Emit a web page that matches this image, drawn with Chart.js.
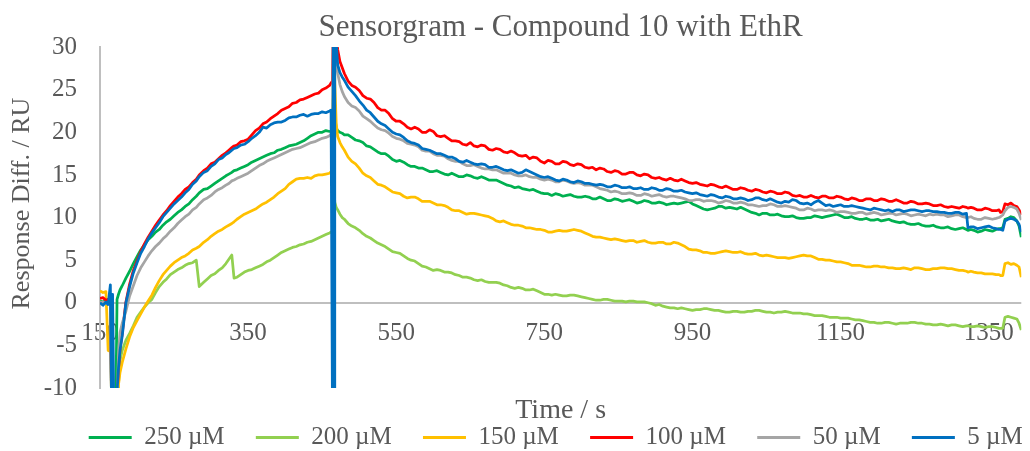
<!DOCTYPE html>
<html lang="en">
<head>
  <meta charset="UTF-8" />
  <title>Sensorgram - Compound 10 with EthR</title>
  <script src="https://cdn.jsdelivr.net/npm/chart.js@4.4.1/dist/chart.umd.min.js"></script>
  <style>
    html, body { margin: 0; padding: 0; background: #fff; }
    #wrap { position: relative; width: 1030px; height: 451px; }
  </style>
</head>
<body>
  <div id="wrap"><canvas id="sensorgram"></canvas></div>
  <script>
    // Time points (s), shared by every run
    const times = [
      150, 154, 158, 161, 164, 166, 167, 169, 171, 173, 175, 177, 180, 185, 190, 195,
      200, 205, 210, 215, 220, 225, 230, 235, 240, 245, 250, 255, 260, 265, 270, 275, 280,
      284, 290, 295, 300, 305, 310, 315, 320, 324, 328, 331, 335,
      340, 345, 350, 355, 360, 365, 370, 375, 380, 385, 390, 395, 400, 405, 410, 415, 420, 425, 430, 435, 440, 445, 450, 455, 460,
      462, 464, 465, 466, 467, 469, 471, 474, 477,
      480, 485, 490, 495, 500, 505, 510, 515, 520, 525,
      530, 535, 540, 545, 550, 555, 560, 565, 570, 575,
      580, 585, 590, 595, 600, 605, 610, 615, 620, 625,
      630, 635, 640, 645, 650, 655, 660, 665, 670, 675,
      680, 685, 690, 695, 700, 705, 710, 715, 720, 725,
      730, 735, 740, 745, 750, 755, 760, 765, 770, 775,
      780, 785, 790, 795, 800, 805, 810, 815, 820, 825,
      830, 835, 840, 845, 850, 855, 860, 865, 870, 875,
      880, 885, 890, 895, 900, 905, 910, 915, 920, 925,
      930, 935, 940, 945, 950, 955, 960, 965, 970, 975,
      980, 985, 990, 995, 1000, 1005, 1010, 1015, 1020, 1025,
      1030, 1035, 1040, 1045, 1050, 1055, 1060, 1065, 1070, 1075,
      1080, 1085, 1090, 1095, 1100, 1105, 1110, 1115, 1120, 1125,
      1130, 1135, 1140, 1145, 1150, 1155, 1160, 1165, 1170, 1175,
      1180, 1185, 1190, 1195, 1200, 1205, 1210, 1215, 1220, 1225,
      1230, 1235, 1240, 1245, 1250, 1255, 1260, 1265, 1270, 1275,
      1280, 1285, 1290, 1295, 1300, 1305, 1310, 1315, 1320,
      1322, 1326, 1330, 1335, 1340, 1345, 1350, 1355, 1360, 1364, 1366, 1369, 1372, 1376, 1380, 1384, 1388, 1391, 1394
    ];

    // Response difference (RU), one array per analyte concentration
    const resp250 = [
      0.2, 0.1, 0.3, 0.2, 0.3, -15, -15, -15, -15, 0.4, 1.0, 1.5, 2.0, 2.9, 3.7, 4.6,
      5.4, 6.2, 6.8, 7.4, 7.8, 8.3, 8.6, 9.1, 9.5, 9.8, 10.2, 10.6, 10.9, 11.3, 11.6, 12.1, 12.5,
      12.9, 13.3, 13.4, 13.7, 14.0, 14.3, 14.6, 14.9, 15.1, 15.3, 15.5, 15.6,
      15.8, 16.0, 16.2, 16.5, 16.7, 16.9, 17.1, 17.3, 17.5, 17.6, 17.9, 18.0, 18.2, 18.4, 18.5, 18.6, 18.8, 19.0, 19.3, 19.6, 19.8, 20.0, 20.0, 20.2, 20.1,
      20.1, 20.1, 24, 23, 22, 20.5, 20.2, 20.0, 19.9,
      19.7, 19.7, 19.4, 19.1, 19.0, 18.8, 18.4, 18.3, 18.0, 17.7,
      17.5, 17.5, 17.2, 16.8, 16.6, 16.7, 16.5, 16.2, 16.0, 16.0,
      15.8, 15.8, 15.6, 15.4, 15.4, 15.5, 15.3, 15.1, 15.0, 15.2,
      15.0, 14.8, 14.8, 15.0, 14.9, 14.7, 14.6, 14.8, 14.6, 14.4,
      14.4, 14.4, 14.2, 14.0, 13.8, 13.7, 13.5, 13.6, 13.4, 13.3,
      13.2, 13.3, 13.1, 12.9, 12.8, 12.8, 12.6, 12.8, 12.7, 12.5,
      12.6, 12.7, 12.5, 12.4, 12.4, 12.5, 12.4, 12.2, 12.2, 12.4,
      12.2, 12.0, 12.0, 12.2, 12.1, 11.9, 12.0, 12.1, 11.9, 11.7,
      11.8, 12.0, 11.9, 11.7, 11.7, 11.8, 11.7, 11.5, 11.6, 11.7,
      11.6, 11.7, 11.8, 11.9, 11.6, 11.4, 11.2, 11.0, 10.9, 11.0,
      11.1, 11.3, 11.3, 11.1, 11.2, 11.1, 11.0, 11.2, 11.0, 10.8,
      10.6, 10.5, 10.3, 10.5, 10.5, 10.3, 10.3, 10.4, 10.2, 10.1,
      10.1, 10.2, 10.0, 9.9, 9.9, 10.0, 10.0, 10.2, 10.1, 10.0,
      10.1, 10.2, 10.3, 10.4, 10.2, 10.0, 10.0, 10.1, 9.9, 9.8,
      9.8, 9.9, 9.7, 9.7, 9.8, 9.6, 9.7, 9.8, 9.6, 9.5,
      9.4, 9.5, 9.3, 9.2, 9.2, 9.3, 9.1, 9.0, 9.0, 9.1,
      8.9, 8.8, 8.8, 8.9, 8.7, 8.6, 8.7, 8.8, 8.6,
      8.5, 8.6, 8.5, 8.3, 8.4, 8.6, 8.5, 8.4, 8.6, 8.7, 8.7, 8.8, 9.8, 9.9, 10.1, 10.0, 9.6, 9.0, 7.7
    ];
    const resp200 = [
      0.1, 0.0, 0.1, 0.0, 0.1, -15, -15, -15, -15, -14, -9.5, -6.8, -5.6, -4.4, -3.6, -2.7,
      -1.7, -1.1, -0.5, 0.0, 0.4, 1.2, 1.9, 2.4, 2.8, 3.3, 3.6, 3.9, 4.1, 4.4, 4.6, 4.7, 5.0,
      1.9, 2.4, 2.8, 3.2, 3.4, 3.8, 4.1, 4.6, 5.1, 5.6, 2.9, 3.0,
      3.3, 3.6, 3.8, 3.9, 4.1, 4.3, 4.5, 4.8, 5.0, 5.3, 5.6, 5.9, 6.1, 6.3, 6.5, 6.6, 6.8, 6.9, 7.1, 7.2, 7.4, 7.6, 7.8, 8.0, 8.2,
      8.3, 8.3, 12.0, 12.0, 11.8, 11.2, 10.9, 10.4, 10.0,
      9.8, 9.3, 9.0, 8.8, 8.5, 8.1, 7.8, 7.6, 7.3, 7.0,
      6.8, 6.6, 6.3, 6.0, 5.9, 5.8, 5.5, 5.2, 5.0, 4.9,
      4.6, 4.3, 4.2, 4.0, 3.8, 3.9, 3.8, 3.6, 3.6, 3.5,
      3.3, 3.2, 3.0, 3.0, 2.9, 2.7, 2.6, 2.7, 2.5, 2.4,
      2.4, 2.4, 2.3, 2.1, 2.0, 1.8, 1.7, 1.8, 1.7, 1.5,
      1.5, 1.6, 1.4, 1.2, 1.0, 1.0, 0.9, 1.0, 0.9, 0.8,
      0.8, 0.9, 0.9, 0.8, 0.7, 0.6, 0.5, 0.4, 0.3, 0.3,
      0.4, 0.4, 0.3, 0.2, 0.2, 0.2, 0.1, 0.2, 0.2, 0.1,
      0.1, 0.1, 0.0, -0.1, -0.3, -0.2, -0.4, -0.5, -0.6, -0.6,
      -0.7, -0.6, -0.7, -0.8, -0.9, -0.8, -0.8, -0.7, -0.7, -0.8,
      -0.9, -0.9, -1.0, -1.1, -1.1, -1.0, -1.0, -1.1, -1.1, -1.0,
      -1.0, -0.9, -0.9, -1.0, -1.1, -1.1, -1.2, -1.1, -1.1, -1.0,
      -1.1, -1.2, -1.2, -1.2, -1.3, -1.3, -1.4, -1.5, -1.5, -1.5,
      -1.6, -1.7, -1.7, -1.7, -1.8, -1.8, -1.8, -1.9, -2.0, -2.0,
      -2.1, -2.2, -2.3, -2.3, -2.4, -2.4, -2.3, -2.3, -2.4, -2.5,
      -2.4, -2.4, -2.4, -2.3, -2.3, -2.4, -2.4, -2.5, -2.5, -2.6,
      -2.6, -2.5, -2.6, -2.7, -2.6, -2.6, -2.7, -2.8, -2.7,
      -2.7, -2.8, -2.8, -2.7, -2.8, -2.9, -2.8, -2.8, -2.9, -3.0, -3.0, -3.0, -1.7, -1.6, -1.7, -1.8, -1.9, -2.4, -3.2
    ];
    const resp150 = [
      1.4, 1.2, 1.3, -5.6, -5.7, -5.5, -15, -15, -15, -15, -9.6, -8.2, -7.0, -5.4, -4.0, -2.9,
      -2.1, -1.3, -0.5, 0.2, 0.9, 1.8, 2.6, 3.3, 3.8, 4.3, 4.7, 5.0, 5.3, 5.5, 5.8, 6.2, 6.4,
      6.6, 7.1, 7.4, 7.8, 8.1, 8.4, 8.6, 8.9, 9.1, 9.3, 9.5, 9.8,
      10.1, 10.4, 10.6, 10.8, 11.0, 11.3, 11.6, 11.8, 12.1, 12.4, 12.8, 13.1, 13.4, 13.9, 14.2, 14.5, 14.6, 14.6, 14.7, 14.6, 14.9, 15.0, 15.0, 15.1, 15.2,
      15.4, 15.4, 27, 27, 26, 21, 19.5, 18.8, 18.3,
      17.9, 17.1, 16.6, 16.3, 15.8, 15.2, 14.9, 14.7, 14.3, 13.9,
      13.8, 13.6, 13.3, 13.0, 12.9, 12.8, 12.5, 12.3, 12.4, 12.4,
      12.2, 11.9, 11.9, 11.9, 11.7, 11.5, 11.5, 11.4, 11.2, 10.9,
      10.8, 10.8, 10.6, 10.4, 10.5, 10.5, 10.4, 10.3, 10.2, 10.1,
      9.9, 9.6, 9.5, 9.6, 9.4, 9.2, 9.1, 9.1, 9.0, 8.8,
      8.8, 8.7, 8.6, 8.6, 8.5, 8.3, 8.3, 8.4, 8.5, 8.4,
      8.4, 8.5, 8.6, 8.5, 8.4, 8.2, 8.0, 7.8, 7.7, 7.7,
      7.6, 7.5, 7.4, 7.5, 7.4, 7.3, 7.2, 7.3, 7.3, 7.1,
      7.2, 7.3, 7.1, 7.0, 7.0, 7.1, 7.1, 6.9, 6.9, 7.1,
      7.0, 6.8, 6.6, 6.3, 6.2, 6.2, 6.1, 5.9, 5.9, 5.8,
      5.8, 5.9, 6.0, 6.1, 6.0, 5.9, 5.9, 6.0, 5.8, 5.7,
      5.7, 5.8, 5.6, 5.5, 5.6, 5.5, 5.4, 5.3, 5.3, 5.3,
      5.2, 5.3, 5.4, 5.5, 5.6, 5.5, 5.5, 5.3, 5.1, 5.1,
      5.0, 5.0, 4.9, 4.8, 4.8, 4.7, 4.6, 4.4, 4.4, 4.4,
      4.3, 4.2, 4.2, 4.3, 4.3, 4.2, 4.2, 4.1, 4.1, 4.0,
      4.0, 4.1, 4.0, 3.9, 4.1, 4.1, 4.0, 3.9, 3.9, 4.0,
      4.0, 4.1, 4.1, 4.0, 4.0, 3.9, 3.8, 3.8, 3.7,
      3.6, 3.7, 3.6, 3.5, 3.5, 3.4, 3.4, 3.4, 3.3, 3.3, 3.2, 3.2, 4.6, 4.7, 4.5, 4.6, 4.4, 4.2, 3.0
    ];
    const resp100 = [
      0.5, 0.6, 0.3, 0.4, 0.5, -15, -15, -15, -15, -10.8, -7.8, -5.5, -3.6, 0.1, 2.2, 3.8,
      4.9, 6.0, 6.9, 7.7, 8.4, 9.1, 9.7, 10.3, 10.8, 11.4, 11.9, 12.4, 12.8, 13.3, 13.6, 14.1, 14.5,
      15.0, 15.5, 15.8, 16.3, 16.5, 16.9, 17.3, 17.6, 17.9, 18.2, 18.4, 18.5,
      18.9, 19.0, 19.2, 19.7, 20.2, 20.5, 21.0, 21.2, 21.6, 21.9, 22.2, 22.6, 22.8, 23.0, 23.4, 23.5, 23.8, 23.9, 24.1, 24.3, 24.5, 24.6, 25.0, 25.2, 25.5,
      25.8, 26, 33, 34, 34, 31, 29.7, 28.3, 27.6,
      26.9, 26.0, 25.5, 25.3, 24.9, 24.3, 24.0, 23.9, 23.5, 22.9,
      22.6, 22.6, 22.2, 21.6, 21.3, 21.3, 21.0, 20.6, 20.4, 20.6,
      20.4, 20.0, 20.0, 20.3, 20.1, 19.6, 19.5, 19.6, 19.3, 19.0,
      19.0, 18.9, 18.6, 18.5, 18.8, 18.4, 18.3, 18.5, 18.4, 18.0,
      17.9, 18.1, 18.0, 17.7, 17.6, 17.8, 17.6, 17.3, 17.2, 17.3,
      16.9, 17.1, 17.0, 16.6, 16.4, 16.7, 16.6, 16.3, 16.3, 16.6,
      16.5, 16.2, 16.1, 16.3, 16.2, 15.9, 15.8, 15.9, 15.6, 15.8,
      15.7, 15.4, 15.3, 15.5, 15.4, 15.1, 15.1, 15.3, 15.3, 15.0,
      14.9, 15.1, 15.0, 14.7, 14.6, 14.7, 14.5, 14.4, 14.6, 14.4,
      14.3, 14.5, 14.3, 14.1, 14.0, 14.1, 13.9, 13.8, 13.7, 13.9,
      13.8, 13.6, 13.5, 13.7, 13.5, 13.3, 13.3, 13.5, 13.4, 13.2,
      13.1, 13.3, 13.2, 13.0, 12.9, 13.1, 13.0, 12.8, 12.8, 13.0,
      12.9, 12.6, 12.5, 12.6, 12.4, 12.4, 12.6, 12.4, 12.3, 12.5,
      12.5, 12.3, 12.3, 12.5, 12.4, 12.2, 12.1, 12.3, 12.2, 12.0,
      12.0, 12.2, 12.2, 12.0, 12.0, 12.2, 12.1, 11.9, 11.9, 12.1,
      11.9, 11.7, 11.7, 11.9, 11.8, 11.6, 11.6, 11.7, 11.6, 11.4,
      11.4, 11.5, 11.3, 11.2, 11.3, 11.2, 11.1, 11.3, 11.2,
      11.1, 11.2, 11.1, 10.9, 10.9, 11.1, 11.0, 10.8, 10.8, 10.9, 10.6, 10.7, 11.6, 11.5, 11.7, 11.4, 11.3, 10.9, 10.3
    ];
    const resp50 = [
      0.0, 0.1, -0.1, 0.0, 0.1, -15, -15, -15, -15, -12, -6.0, -3.5, -2.4, -1.0, 0.8, 2.0,
      3.2, 4.1, 4.8, 5.5, 6.1, 6.6, 7.0, 7.5, 7.9, 8.4, 8.8, 9.3, 9.7, 10.1, 10.4, 10.9, 11.2,
      11.6, 12.1, 12.3, 12.6, 13.0, 13.3, 13.5, 13.8, 14.0, 14.3, 14.4, 14.6,
      14.8, 15.0, 15.2, 15.5, 15.8, 16.1, 16.3, 16.6, 16.8, 17.0, 17.2, 17.4, 17.6, 17.8, 18.0, 18.1, 18.2, 18.4, 18.6, 18.8, 18.9, 19.1, 19.3, 19.4, 19.6,
      19.8, 19.8, 30, 30, 30, 28, 26.9, 25.6, 24.8,
      24.2, 23.5, 23.1, 22.9, 22.5, 21.9, 21.6, 21.3, 20.9, 20.5,
      20.3, 20.2, 19.9, 19.5, 19.3, 19.2, 19.0, 18.7, 18.6, 18.5,
      18.3, 17.9, 17.8, 17.8, 17.5, 17.3, 17.3, 17.2, 16.9, 16.7,
      16.6, 16.6, 16.3, 16.1, 16.1, 16.2, 16.0, 15.8, 15.7, 15.7,
      15.6, 15.6, 15.4, 15.2, 15.2, 15.2, 15.0, 14.9, 14.9, 15.0,
      14.8, 14.7, 14.7, 14.5, 14.4, 14.5, 14.4, 14.2, 14.2, 14.4,
      14.3, 14.1, 14.0, 14.1, 14.0, 13.8, 13.8, 13.8, 13.6, 13.4,
      13.3, 13.2, 13.0, 13.1, 13.0, 12.8, 12.8, 12.9, 12.8, 12.6,
      12.6, 12.8, 12.7, 12.5, 12.6, 12.7, 12.5, 12.4, 12.5, 12.5,
      12.4, 12.3, 12.2, 12.0, 12.0, 12.1, 12.1, 11.9, 12.0, 12.0,
      11.9, 11.7, 11.8, 12.0, 11.9, 11.7, 11.7, 11.8, 11.7, 11.5,
      11.5, 11.4, 11.3, 11.4, 11.4, 11.6, 11.5, 11.3, 11.3, 11.4,
      11.3, 11.2, 11.1, 10.9, 10.9, 11.1, 11.0, 10.8, 10.9, 10.9,
      10.8, 10.9, 10.8, 10.6, 10.7, 10.7, 10.6, 10.5, 10.5, 10.6,
      10.6, 10.4, 10.5, 10.6, 10.5, 10.3, 10.4, 10.5, 10.5, 10.3,
      10.4, 10.5, 10.4, 10.2, 10.3, 10.4, 10.3, 10.2, 10.4, 10.3,
      10.4, 10.3, 10.3, 10.1, 10.2, 10.3, 10.3, 10.1, 10.0,
      10.0, 10.1, 9.9, 9.8, 9.8, 10.0, 9.9, 9.8, 9.9, 10.0, 10.1, 10.3, 10.8, 11.2, 11.3, 11.2, 11.0, 10.5, 9.7
    ];
    const resp5 = [
      0.0, -0.3, 0.1, -0.2, 2.1, -15, 1.0, -15, -15, -10.5, -7.6, -5.6, -3.9, 0.0, 1.9, 3.5,
      4.7, 5.8, 6.6, 7.5, 8.2, 8.8, 9.4, 10.1, 10.6, 11.1, 11.6, 12.0, 12.4, 12.9, 13.3, 13.9, 14.3,
      14.8, 15.3, 15.5, 16.0, 16.3, 16.8, 17.0, 17.4, 17.6, 17.9, 18.1, 18.2,
      18.5, 18.6, 18.9, 19.3, 19.6, 20.0, 20.6, 20.5, 20.9, 21.1, 21.2, 21.2, 21.4, 21.7, 21.8, 21.8, 22.0, 22.1, 21.9, 22.1, 22.2, 22.2, 22.4, 22.3, 22.5,
      22.6, -15, 36, -15, 36, 30.5, 27.9, 27.0, 26.5,
      26.1, 25.3, 24.8, 24.3, 23.7, 23.2, 22.6, 22.3, 21.8, 21.3,
      21.0, 20.8, 20.4, 20.0, 19.8, 19.7, 19.4, 19.0, 18.8, 18.7,
      18.5, 18.1, 18.0, 17.9, 17.7, 17.5, 17.5, 17.3, 17.1, 17.1,
      16.9, 16.6, 16.5, 16.7, 16.5, 16.3, 16.2, 16.3, 16.2, 15.9,
      15.9, 16.0, 15.8, 15.6, 15.5, 15.6, 15.4, 15.2, 15.3, 15.6,
      15.4, 15.2, 15.0, 14.8, 14.7, 14.8, 14.6, 14.4, 14.3, 14.5,
      14.4, 14.2, 14.1, 14.3, 14.2, 14.0, 14.0, 13.9, 13.8, 13.9,
      13.8, 13.6, 13.6, 13.8, 13.7, 13.5, 13.5, 13.6, 13.4, 13.4,
      13.5, 13.3, 13.3, 13.5, 13.4, 13.2, 13.2, 13.4, 13.3, 13.1,
      13.1, 13.2, 13.0, 12.9, 12.8, 12.9, 12.7, 12.6, 12.5, 12.7,
      12.6, 12.4, 12.3, 12.5, 12.4, 12.2, 12.2, 12.3, 12.2, 12.0,
      12.1, 12.3, 12.3, 12.1, 12.0, 12.2, 12.0, 11.8, 11.7, 11.9,
      11.8, 12.1, 12.0, 11.7, 11.6, 11.7, 11.5, 11.8, 12.0, 11.7,
      11.4, 11.5, 11.3, 11.4, 11.5, 11.3, 11.3, 11.4, 11.3, 11.2,
      11.1, 11.0, 10.9, 11.1, 11.0, 10.9, 10.8, 10.9, 10.7, 10.9,
      10.9, 10.7, 10.8, 10.9, 10.9, 10.8, 10.7, 10.8, 10.8, 10.7,
      10.7, 10.6, 10.6, 10.5, 10.5, 10.6, 10.6, 10.4, 10.5,
      8.8, 8.9, 8.9, 8.7, 8.8, 8.9, 9.0, 8.8, 8.7, 8.6, 8.6, 8.5, 9.6, 9.8, 9.9, 9.8, 9.6, 9.2, 8.3
    ];

    const xTicks = [150, 350, 550, 750, 950, 1150, 1350];
    const runLabels = ['250 µM', '200 µM', '150 µM', '100 µM', '50 µM', '5 µM'];
    const runColors = ['#00b050', '#92d050', '#ffc000', '#ff0000', '#a5a5a5', '#0070c0'];

    const TEXT = '#595959';
    const AXIS = '#bfbfbf';
    const SERIF = "'Liberation Serif', 'Times New Roman', serif";
    const LEGEND_GAP = '     ';

    // y caption drawn by hand so it can sit a little above the plot middle
    const yCaption = {
      id: 'yCaption',
      afterDraw(chart) {
        const { ctx, chartArea } = chart;
        ctx.save();
        ctx.translate(22, (chartArea.top + chartArea.bottom) / 2 - 14);
        ctx.rotate(-Math.PI / 2);
        ctx.font = '26px ' + SERIF;
        ctx.fillStyle = TEXT;
        ctx.textAlign = 'center';
        ctx.textBaseline = 'middle';
        ctx.fillText('Response Diff. / RU', 0, 0);
        ctx.restore();
      }
    };

    // time axis along y = 0, painted under the traces
    const zeroAxis = {
      id: 'zeroAxis',
      beforeDatasetsDraw(chart) {
        const { ctx, chartArea, scales } = chart;
        const y = scales.y.getPixelForValue(0);
        ctx.save();
        ctx.fillStyle = AXIS;
        ctx.fillRect(chartArea.left, Math.round(y) - 1, chartArea.right - chartArea.left, 2);
        ctx.restore();
      }
    };

    const runs = [resp250, resp200, resp150, resp100, resp50, resp5];

    new Chart(document.getElementById('sensorgram'), {
      type: 'line',
      data: {
        datasets: runs.map((vals, i) => ({
          label: runLabels[i],
          data: vals.map((y, k) => ({ x: times[k], y })),
          borderColor: runColors[i],
          backgroundColor: runColors[i],
          borderWidth: 2.75,
          borderJoinStyle: 'round',
          pointRadius: 0,
          tension: 0,
          order: runs.length - i   // lowest concentration ends up on top
        }))
      },
      options: {
        responsive: true,
        maintainAspectRatio: false,
        animation: false,
        devicePixelRatio: 1,
        layout: { padding: { left: 0, right: 1, top: 0, bottom: 0 } },
        plugins: {
          tooltip: { enabled: false },
          title: {
            display: true,
            text: 'Sensorgram - Compound 10 with EthR',
            color: TEXT,
            fullSize: false,
            font: { family: SERIF, size: 31, weight: 'normal', lineHeight: 1.1 },
            padding: { top: 11, bottom: 2 }
          },
          subtitle: {
            display: true,
            text: 'Time / s',
            position: 'bottom',
            fullSize: false,
            weight: 500,
            color: TEXT,
            font: { family: SERIF, size: 28, weight: 'normal', lineHeight: 1 },
            padding: { top: 9, bottom: 0 }
          },
          legend: {
            position: 'bottom',
            align: 'end',
            maxHeight: 26,
            labels: {
              boxWidth: 43,
              boxHeight: 3,
              padding: 0,
              color: TEXT,
              font: { family: SERIF, size: 25 },
              generateLabels(chart) {
                const items = Chart.defaults.plugins.legend.labels.generateLabels(chart)
                  .sort((a, b) => a.datasetIndex - b.datasetIndex);
                return items.map((it, i) => ({
                  ...it,
                  text: it.text + (i < items.length - 1 ? LEGEND_GAP : ' '),
                  fillStyle: it.strokeStyle,
                  lineWidth: 0
                }));
              }
            }
          }
        },
        scales: {
          x: {
            type: 'linear',
            min: 150,
            max: 1394,
            position: { y: 0 },
            grid: { display: false, drawTicks: false },
            border: { display: false },
            afterBuildTicks(scale) {
              scale.ticks = xTicks.map(value => ({ value }));
            },
            ticks: {
              color: TEXT,
              font: { family: SERIF, size: 25 },
              padding: 16,
              autoSkip: false,
              maxRotation: 0,
              callback: v => String(v)
            }
          },
          y: {
            min: -10,
            max: 30,
            grid: { display: false, drawTicks: false },
            border: { display: true, color: AXIS, width: 2 },
            afterFit(scale) { scale.width = 100; },
            ticks: {
              stepSize: 5,
              color: TEXT,
              font: { family: SERIF, size: 25 },
              padding: 23,
              callback: v => String(v)
            }
          }
        }
      },
      plugins: [zeroAxis, yCaption]
    });
  </script>
</body>
</html>
